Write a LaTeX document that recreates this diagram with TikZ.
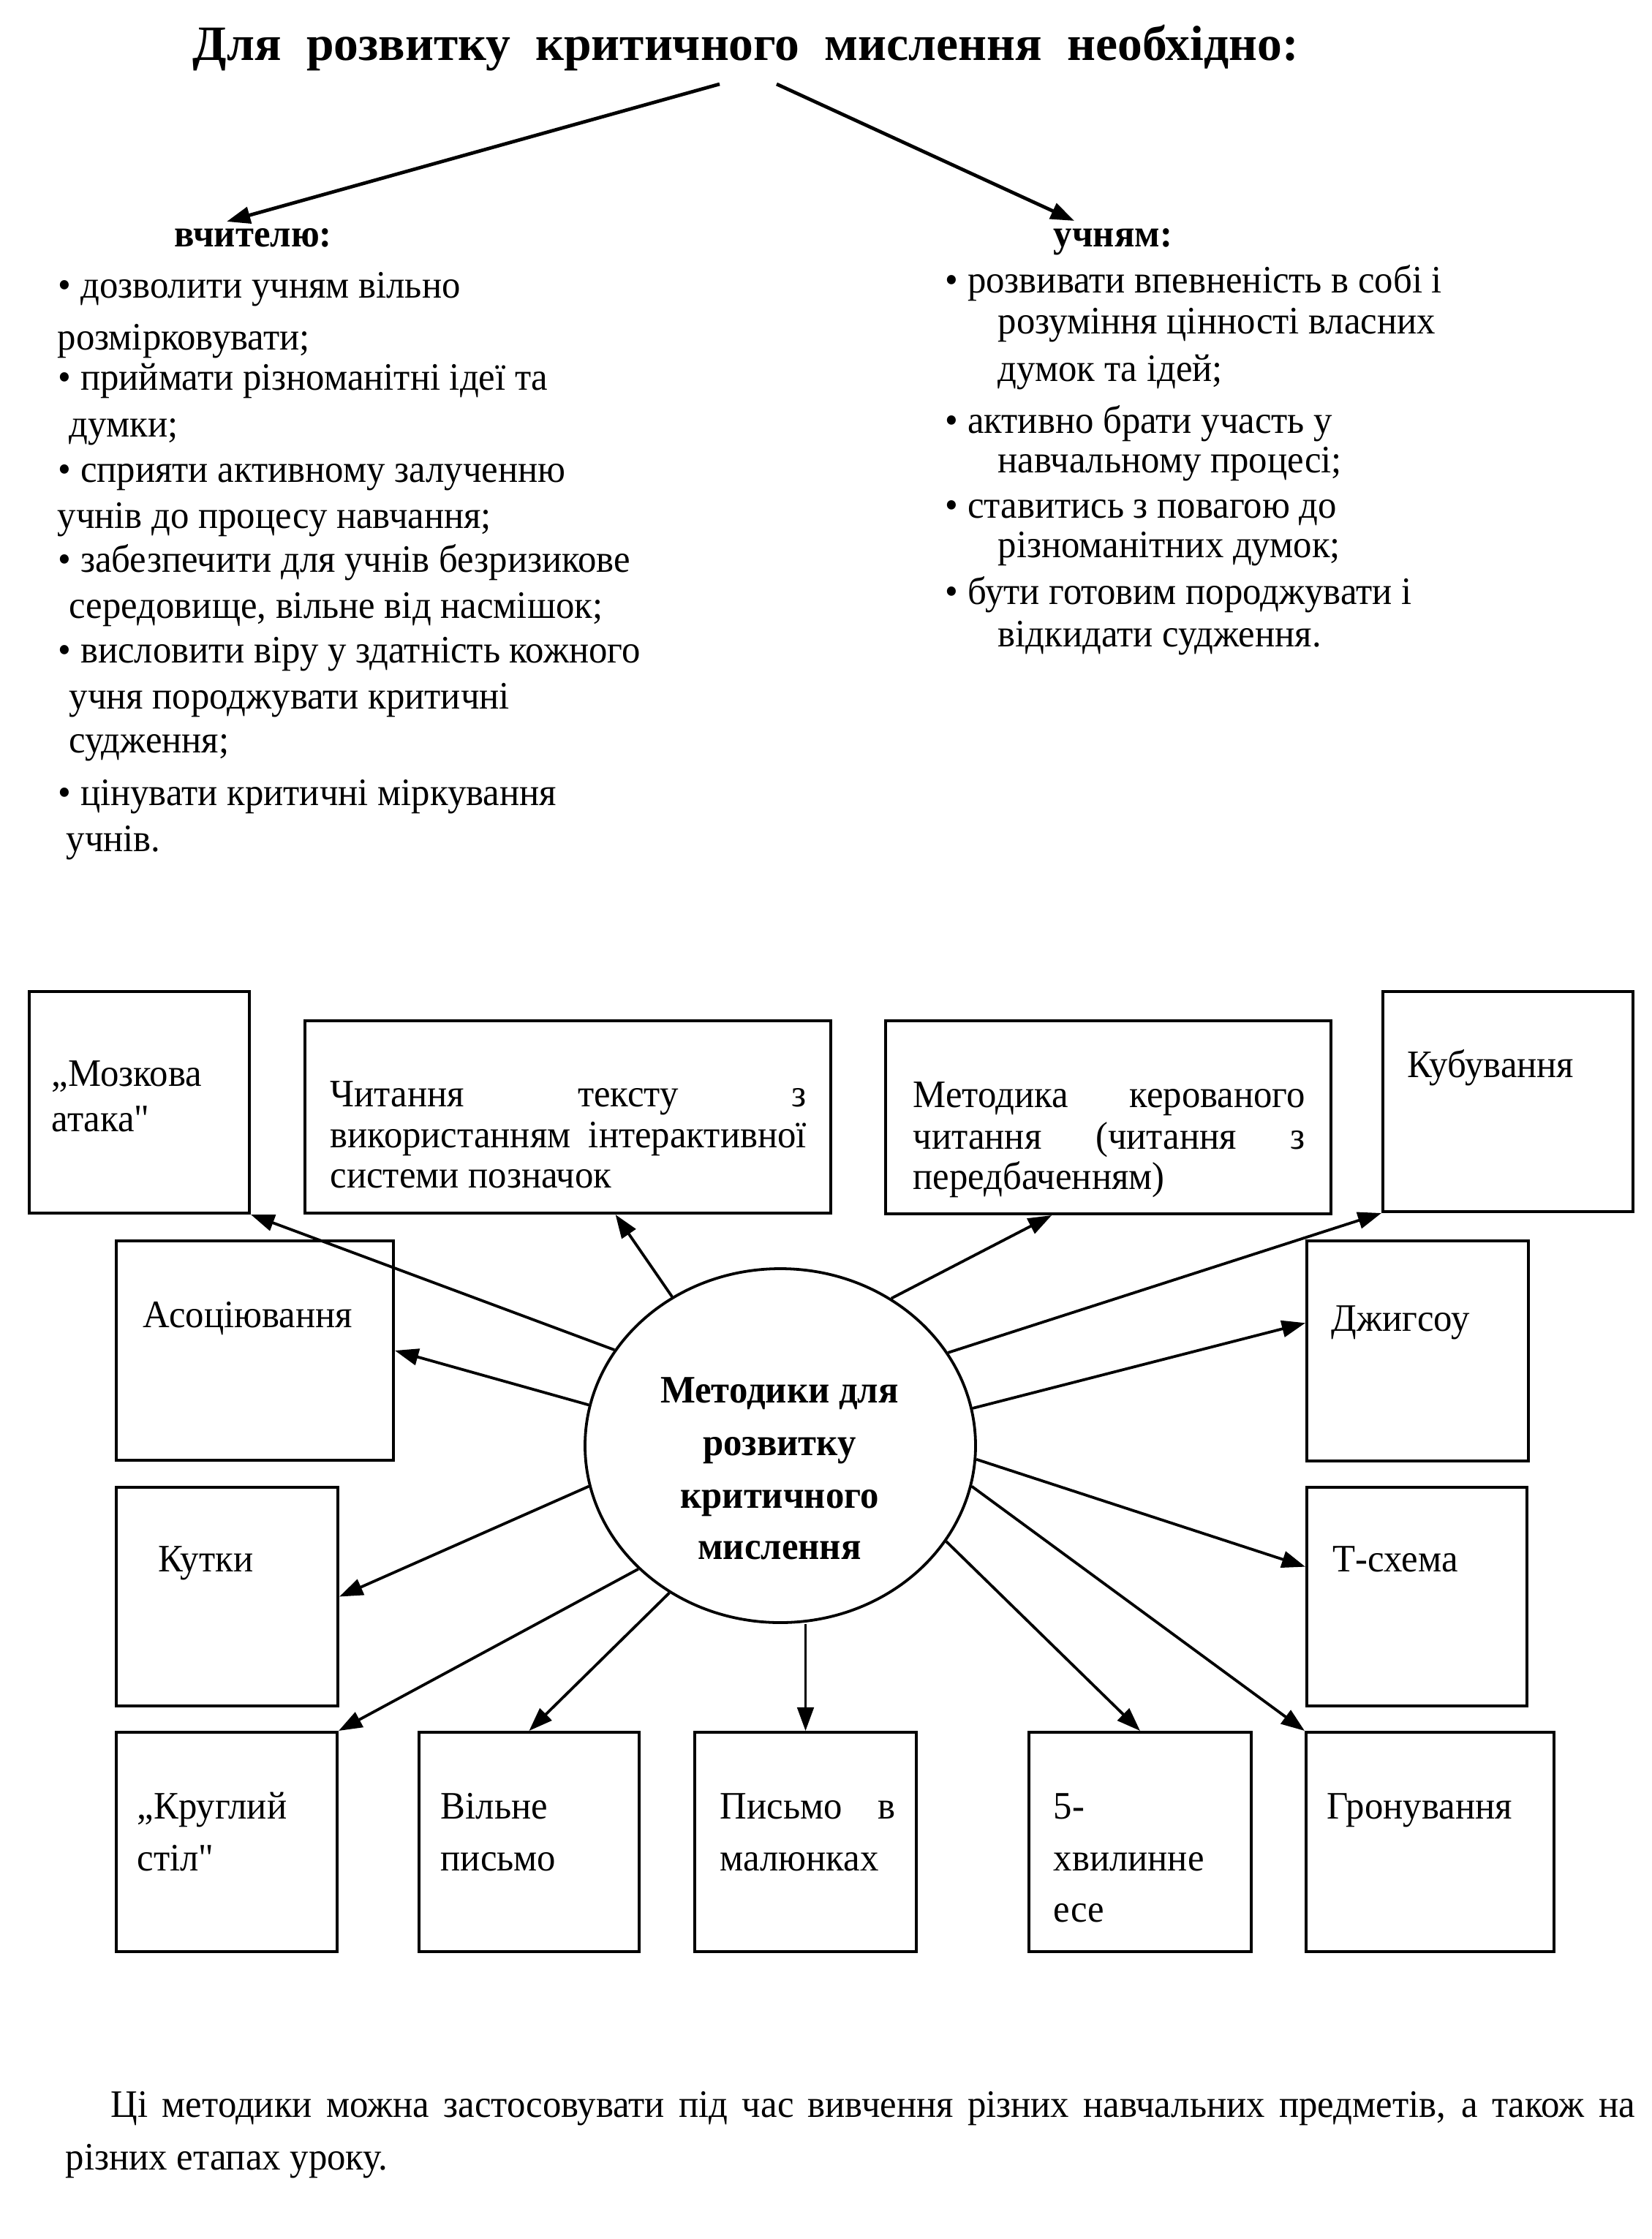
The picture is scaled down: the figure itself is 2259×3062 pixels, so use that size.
\documentclass[tikz,border=0pt]{standalone}
\usepackage{fontspec}
\setmainfont{Liberation Serif}[FakeStretch=0.955]
\newfontfamily\titlefont{Liberation Serif}
\usetikzlibrary{arrows.meta,shapes.geometric}
\newdimen\pxu \pxu=0.2634pt
\begin{document}
\begin{tikzpicture}[x=0.2634pt,y=-0.2634pt,
  box/.style={draw,line width=1.05pt,rectangle,inner sep=0pt},
  conn/.style={line width=1pt,-{Triangle[length=8.5pt,width=6pt]}},
  bigconn/.style={line width=1.25pt,-{Triangle[length=8.5pt,width=6pt]}},
  txt/.style={anchor=base west,inner sep=0pt,font=\fontsize{14pt}{17pt}\selectfont},
  btxt/.style={anchor=base west,inner sep=0pt,font=\fontsize{14pt}{17pt}\selectfont\bfseries},
  ctxt/.style={anchor=base,inner sep=0pt,font=\fontsize{14pt}{17pt}\selectfont\bfseries}]
\useasboundingbox[fill=white] (0,0) rectangle (2259,3062);

% title
\node[anchor=base west,inner sep=0pt,font=\titlefont\fontsize{17.8pt}{20pt}\selectfont\bfseries] (title) at (263,82)
  {\makebox[1512\pxu][s]{Для розвитку критичного мислення необхідно:}};
\coordinate (tl) at (984,115);
\coordinate (tlend) at (310,303);
\coordinate (tr) at (1062,115);
\coordinate (trend) at (1469,302);
\draw[bigconn] (tl) -- (tlend);
\draw[bigconn] (tr) -- (trend);

% headings
\node[btxt] (hteach) at (238,337) {вчителю:};
\node[btxt] (hpup) at (1440,337) {учням:};

% left list
\node[txt] (l1) at (79,407) {• дозволити учням вільно};
\node[txt] (l2) at (78,478) {розмірковувати;};
\node[txt] (l3) at (79,533) {• приймати різноманітні ідеї та};
\node[txt] (l4) at (94,597) {думки;};
\node[txt] (l5) at (79,659) {• сприяти активному залученню};
\node[txt] (l6) at (78,722) {учнів до процесу навчання;};
\node[txt] (l7) at (79,782) {• забезпечити для учнів безризикове};
\node[txt] (l8) at (94,845) {середовище, вільне від насмішок;};
\node[txt] (l9) at (79,906) {• висловити віру у здатність кожного};
\node[txt] (l10) at (94,969) {учня породжувати критичні};
\node[txt] (l11) at (94,1029) {судження;};
\node[txt] (l12) at (79,1101) {• цінувати критичні міркування};
\node[txt] (l13) at (90,1164) {учнів.};

% right list
\node[txt] (r1) at (1292,400) {• розвивати впевненість в собі і};
\node[txt] (r2) at (1364,456) {розуміння цінності власних};
\node[txt] (r3) at (1364,521) {думок та ідей;};
\node[txt] (r4) at (1292,592) {• активно брати участь у};
\node[txt] (r5) at (1364,646) {навчальному процесі;};
\node[txt] (r6) at (1292,708) {• ставитись з повагою до};
\node[txt] (r7) at (1364,762) {різноманітних думок;};
\node[txt] (r8) at (1292,826) {• бути готовим породжувати і};
\node[txt] (r9) at (1364,884) {відкидати судження.};

% boxes
\node[box,minimum width=301\pxu,minimum height=303\pxu] (mozk) at (190.5,1507.5) {};
\node[box,minimum width=719\pxu,minimum height=263\pxu] (chyt) at (776.5,1527.5) {};
\node[box,minimum width=609\pxu,minimum height=264\pxu] (metod) at (1515.5,1528) {};
\node[box,minimum width=342\pxu,minimum height=301\pxu] (kub) at (2062,1506.5) {};
\node[box,minimum width=379\pxu,minimum height=300\pxu] (asoc) at (348.5,1847) {};
\node[box,minimum width=303\pxu,minimum height=301\pxu] (dzh) at (1938.5,1847.5) {};
\node[box,minimum width=303\pxu,minimum height=299\pxu] (kut) at (310.5,2183.5) {};
\node[box,minimum width=301\pxu,minimum height=299\pxu] (tsch) at (1937.5,2183.5) {};
\node[box,minimum width=302\pxu,minimum height=300\pxu] (krug) at (310,2519) {};
\node[box,minimum width=301\pxu,minimum height=300\pxu] (vil) at (723.5,2519) {};
\node[box,minimum width=303\pxu,minimum height=300\pxu] (pis) at (1101.5,2519) {};
\node[box,minimum width=304\pxu,minimum height=300\pxu] (khv) at (1559,2519) {};
\node[box,minimum width=339\pxu,minimum height=300\pxu] (hron) at (1955.5,2519) {};

% centre ellipse
\node[draw,ellipse,line width=1pt,inner sep=0pt,minimum width=534\pxu,minimum height=484\pxu] (c) at (1067,1977) {};
\node[ctxt] (c1) at (1066,1918) {Методики для};
\node[ctxt] (c2) at (1066,1990) {розвитку};
\node[ctxt] (c3) at (1066,2062) {критичного};
\node[ctxt] (c4) at (1066,2132) {мислення};

% box texts
\node[txt] (t1a) at (70,1485) {„Мозкова};
\node[txt] (t1b) at (70,1547) {атака\textquotedbl};
\node[txt] (t2a) at (451,1513) {\makebox[651\pxu][s]{Читання тексту з}};
\node[txt] (t2b) at (451,1569) {\makebox[651\pxu][s]{використанням інтерактивної}};
\node[txt] (t2c) at (451,1624) {системи позначок};
\node[txt] (t3a) at (1248,1514) {\makebox[536\pxu][s]{Методика керованого}};
\node[txt] (t3b) at (1248,1571) {\makebox[536\pxu][s]{читання (читання з}};
\node[txt] (t3c) at (1248,1626) {передбаченням)};
\node[txt] (t4) at (1924,1473) {Кубування};
\node[txt] (t5) at (195,1815) {Асоціювання};
\node[txt] (t6) at (1820,1820) {Джигсоу};
\node[txt] (t7) at (216,2149) {Кутки};
\node[txt] (t8) at (1822,2149) {Т-схема};
\node[txt] (t9a) at (187,2487) {„Круглий};
\node[txt] (t9b) at (187,2558) {стіл\textquotedbl};
\node[txt] (t10a) at (602,2487) {Вільне};
\node[txt] (t10b) at (602,2558) {письмо};
\node[txt] (t11a) at (984,2487) {\makebox[240\pxu][s]{Письмо в}};
\node[txt] (t11b) at (984,2558) {малюнках};
\node[txt] (t12a) at (1440,2487) {5-};
\node[txt] (t12b) at (1440,2558) {хвилинне};
\node[txt] (t12c) at (1440,2628) {есе};
\node[txt] (t13) at (1814,2487) {Гронування};

% connectors
\draw[conn] (c.150) -- (mozk.south east);
\draw[conn] (c.126.4) -- (chyt.-64);
\draw[conn] (c.168.1) -- (asoc.east);
\draw[conn] (c.192) -- (kut.east);
\draw[conn] (c.221.7) -- (krug.north east);
\draw[conn] (c.233.4) -- (vil.north);
\draw[conn,line width=0.8pt] (pis.north |- c.south) -- (pis.north);
\draw[conn] (c.53.8) -- (metod.240.9);
\draw[conn] (c.29.7) -- (kub.south west);
\draw[conn] (c.11.5) -- (dzh.166.1);
\draw[conn] (c.-4.5) -- (tsch.165.1);
\draw[conn] (c.-12.1) -- (hron.north west);
\draw[conn] (c.-30.2) -- (khv.north);

% closing paragraph
\node[txt] (p1) at (151,2895) {\makebox[2084\pxu][s]{Ці методики можна застосовувати під час вивчення різних навчальних предметів, а також на}};
\node[txt] (p2) at (89,2967) {різних етапах уроку.};
\end{tikzpicture}
\end{document}
